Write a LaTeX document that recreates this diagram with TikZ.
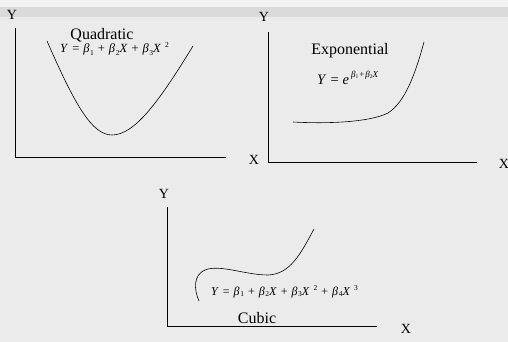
\documentclass[tikz,border=0pt]{standalone}
\usepackage{fontspec}
\setmainfont{Liberation Serif}
\definecolor{bgc}{HTML}{EBEBEB}
\definecolor{bandc}{HTML}{DADADA}
\definecolor{topc}{HTML}{F3F3F3}
\newcommand\gsp{\hspace{4pt}}
\newcommand\bt[1]{\textit{β}\hspace{0.6pt}\raisebox{-0.35ex}{\fontsize{7.5}{7.5}\selectfont #1}}
\newcommand\sps[1]{\hspace{4pt}\raisebox{0.9ex}{\fontsize{7.5}{7.5}\selectfont #1}}
\begin{document}
\begin{tikzpicture}[x=1pt,y=-1pt,
  axis/.style={line width=0.9pt,black},
  curve/.style={line width=0.6pt,black},
  title/.style={font=\fontsize{16}{16}\selectfont,inner sep=0pt,anchor=base},
  lab/.style={font=\fontsize{14}{14}\selectfont,inner sep=0pt,anchor=base},
  eq/.style={font=\fontsize{12.5}{12.5}\selectfont,inner sep=0pt,anchor=base west}]
\useasboundingbox (0,0) rectangle (508,342);
\fill[bgc] (0,0) rectangle (508,342);
\fill[topc] (0,0) rectangle (508,7);
\fill[bandc] (0,7) rectangle (508,17);
% panel 1
\coordinate (a1t) at (15,28);
\coordinate (a1o) at (15,157);
\coordinate (a1r) at (226,157);
\draw[axis] (a1t) -- (a1o) -- (a1r);
\node[lab] (y1) at (12,20) {Y};
\node[lab] (x1) at (254,164) {X};
\node[title] (q) at (102,39.5) {Quadratic};
\node[eq] (qe) at (60,53) {\textit{Y}\gsp=\gsp\bt{1}\gsp+\gsp\bt{2}\textit{X}\gsp+\gsp\bt{3}\textit{X}\sps{2}};
\draw[curve] (47,41) .. controls (75,105) and (92,135) .. (112,135)
  .. controls (135,135) and (160,100) .. (193,46);
% panel 2
\coordinate (a2t) at (268,32);
\coordinate (a2o) at (268,162);
\coordinate (a2r) at (477,162);
\draw[axis] (a2t) -- (a2o) -- (a2r);
\node[lab] (y2) at (264,22) {Y};
\node[lab] (x2) at (504,168) {X};
\node[title] (ex) at (350,55) {Exponential};
\node[font=\fontsize{14.5}{14.5}\selectfont,inner sep=0pt,anchor=base west] (ee) at (317,85)
  {\textit{Y}\gsp=\gsp\textit{e}\raisebox{1.1ex}{\fontsize{9}{9}\selectfont\hspace{2pt}\textit{β}\raisebox{-0.3ex}{\fontsize{5.5}{5.5}\selectfont 1}\hspace{1pt}+\hspace{1pt}\textit{β}\raisebox{-0.3ex}{\fontsize{5.5}{5.5}\selectfont 2}\textit{X}}};
\draw[curve] (293,122) .. controls (330,124) and (370,122) .. (388,113)
  .. controls (405,102) and (415,75) .. (424,42);
% panel 3
\coordinate (a3t) at (167,207);
\coordinate (a3o) at (167,326);
\coordinate (a3r) at (377,326);
\draw[axis] (a3t) -- (a3o) -- (a3r);
\node[lab] (y3) at (164,198) {Y};
\node[lab] (x3) at (406,333) {X};
\node[title] (cu) at (257,323) {Cubic};
\node[eq,font=\fontsize{12}{12}\selectfont] (ce) at (211,295) {\textit{Y}\gsp=\gsp\bt{1}\gsp+\gsp\bt{2}\textit{X}\gsp+\gsp\bt{3}\textit{X}\sps{2}\gsp+\gsp\bt{4}\textit{X}\sps{3}};
\draw[curve] (199,301) .. controls (194,290) and (193,275) .. (205,270)
  .. controls (220,264) and (245,275) .. (268,275)
  .. controls (290,274) and (300,255) .. (314,229);
\end{tikzpicture}
\end{document}
